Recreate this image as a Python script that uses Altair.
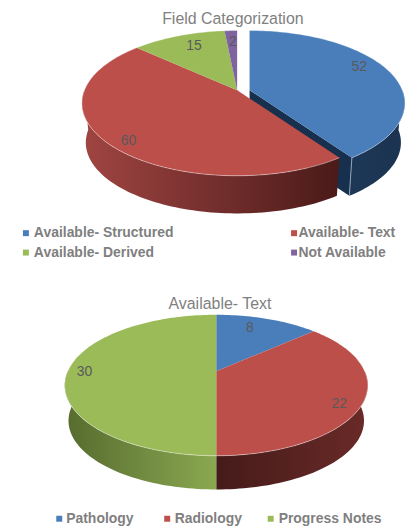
import numpy as np
import pandas as pd
import altair as alt

# ---- data ----
top_title = "Field Categorization"
top_names = ["Available- Structured", "Available- Text", "Available- Derived", "Not Available"]
top_values = [52, 60, 15, 2]
bottom_title = "Available- Text"
bottom_names = ["Pathology", "Radiology", "Progress Notes"]
bottom_values = [8, 22, 30]
surface = ["#4a7ebb", "#bd4f4b", "#9bbb59", "#8064a2"]
edge_colors = ["#1b3553", None, None, None]

W, H = 400, 520
xs = alt.Scale(domain=[8, 8 + W], range=[0, W], nice=False, zero=False)
ys = alt.Scale(domain=[8 + H, 8], range=[H, 0], nice=False, zero=False)
X = alt.X("x:Q", scale=xs, axis=None)
Y = alt.Y("y:Q", scale=ys, axis=None)


def grad(c1, c2):
    return alt.Gradient(gradient="linear", x1=0, y1=0, x2=1, y2=0,
                        stops=[alt.GradientStop(color=c1, offset=0),
                               alt.GradientStop(color=c2, offset=1)])


class Pie:
    def __init__(self, cx, cy, up, down, rx, depth, shrink):
        self.cx, self.cy, self.depth, self.shrink = cx, cy, depth, shrink
        self.k = (down - up) / (down + up)
        self.B = up * (1 + self.k)
        self.A = rx * np.sqrt(1 - self.k ** 2)

    def pt(self, a, low=False, dx=0.0):
        r = np.radians(a)
        d = 1 + self.k * np.cos(r)
        s = self.shrink if low else 1.0
        x = self.cx + dx + s * self.A * np.sin(r) / d
        y = self.cy + (self.depth if low else 0) - s * self.B * np.cos(r) / d
        return x, y

    def arc(self, a1, a2, low=False, dx=0.0):
        n = max(2, int(abs(a2 - a1) / 1.5) + 2)
        return [self.pt(a, low, dx) for a in np.linspace(a1, a2, n)]


def poly(points, fill):
    pts = list(points) + [points[0]]
    df = pd.DataFrame({"x": [p[0] for p in pts], "y": [p[1] for p in pts], "i": range(len(pts))})
    return alt.Chart(df).mark_line(fill=fill, stroke=None, strokeWidth=0, clip=False).encode(
        x=X, y=Y, order="i:Q")


def stroke(points, color, width=1.0, opacity=1.0):
    df = pd.DataFrame({"x": [p[0] for p in points], "y": [p[1] for p in points], "i": range(len(points))})
    return alt.Chart(df).mark_line(color=color, strokeWidth=width, opacity=opacity).encode(
        x=X, y=Y, order="i:Q")


def label(rows, size, color, weight="normal", align="center"):
    df = pd.DataFrame(rows, columns=["x", "y", "t"])
    return alt.Chart(df).mark_text(font="Liberation Sans", fontSize=size, color=color,
                                   fontWeight=weight, align=align, baseline="middle").encode(
        x=X, y=Y, text="t:N")


def square(rows):
    df = pd.DataFrame(rows, columns=["x", "y", "c"])
    return alt.Chart(df).mark_square(size=36, opacity=1).encode(
        x=X, y=Y, color=alt.Color("c:N", scale=None))


layers = []

# ---- upper pie ----
p1 = Pie(238.3, 89.3, 60, 86, 156, 40, 0.975)
edges = np.concatenate([[0], np.cumsum(top_values)]) / sum(top_values) * 360
shift = 12.5
# exploded slice: wall, inner cut face and its light edge
a0, a1 = edges[0], edges[1]
layers.append(poly(p1.arc(90, a1, dx=shift) + p1.arc(a1, 90, True, dx=shift), grad("#1d3857", "#1b3350")))
apex_t = (p1.cx + shift, p1.cy)
apex_b = (p1.cx + shift, p1.cy + p1.depth)
layers.append(poly([apex_t, p1.pt(a1, dx=shift), p1.pt(a1, True, dx=shift), apex_b], "#17304d"))
layers.append(stroke([p1.pt(a1, dx=shift), p1.pt(a1, True, dx=shift)], "#8ea3b9", 1.0))
# red wall
layers.append(poly(p1.arc(a1, 270) + p1.arc(270, a1, True), grad("#a04542", "#4a1a19")))
# top faces
for i in range(4):
    dx = shift if i == 0 else 0.0
    center = (p1.cx + dx, p1.cy)
    layers.append(poly([center] + p1.arc(edges[i], edges[i + 1], dx=dx), surface[i]))
layers.append(stroke(p1.arc(edges[0], edges[1], dx=shift), "#ffffff", 1.0, 0.35))
layers.append(stroke(p1.arc(edges[1], edges[2]), "#ffffff", 1.0, 0.4))
layers.append(stroke(p1.arc(edges[2], edges[4]), "#ffffff", 1.0, 0.3))
layers.append(label([(234, 18, top_title)], 16, "#7f7f7f"))
layers.append(label([(361, 66, top_values[0]), (129, 140, top_values[1]),
                     (195, 45, top_values[2]), (234, 41, top_values[3])], 14, "#595959"))
layers.append(square([(26, 233, surface[0]), (295.5, 233, surface[1]),
                      (26, 252.5, surface[2]), (295.5, 252.5, surface[3])]))
layers.append(label([(34, 233, top_names[0]), (300, 233, top_names[1]),
                     (34, 252.5, top_names[2]), (300, 252.5, top_names[3])],
                    14, "#7f7f7f", "bold", "left"))

# ---- lower pie ----
p2 = Pie(217.3, 371.7, 56.7, 85, 152.3, 36, 0.975)
e2 = np.concatenate([[0], np.cumsum(bottom_values)]) / sum(bottom_values) * 360
layers.append(poly(p2.arc(90, e2[2]) + p2.arc(e2[2], 90, True), grad("#441b19", "#6a2a28")))
layers.append(poly(p2.arc(e2[2], 270) + p2.arc(270, e2[2], True), grad("#566b2e", "#8aa851")))
for i in range(3):
    layers.append(poly([(p2.cx, p2.cy)] + p2.arc(e2[i], e2[i + 1]), surface[i]))
layers.append(stroke(p2.arc(80, 280), "#ffffff", 1.0, 0.4))
layers.append(label([(221, 304, bottom_title)], 16, "#7f7f7f"))
layers.append(label([(251, 328, bottom_values[0]), (341, 405, bottom_values[1]),
                     (85, 373, bottom_values[2])], 14, "#595959"))
layers.append(square([(59.5, 520, surface[0]), (168, 520, surface[1]), (272, 520, surface[2])]))
layers.append(label([(66.5, 520, bottom_names[0]), (175.5, 520, bottom_names[1]),
                     (280, 520, bottom_names[2])], 14, "#7f7f7f", "bold", "left"))

chart = alt.layer(*layers).properties(
    width=W, height=H, padding=0, autosize=alt.AutoSizeParams(type="none"),
    background="white",
).configure_view(stroke=None)

chart.save("out.html", embed_options={"renderer": "svg", "actions": False})
